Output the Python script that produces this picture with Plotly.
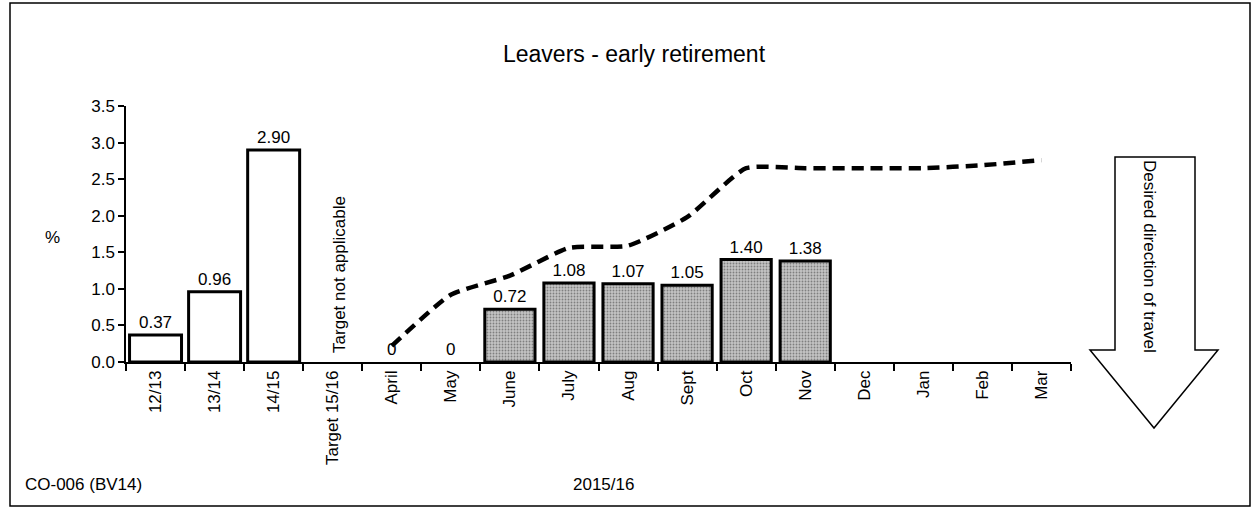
import plotly.graph_objects as go

categories = ["12/13", "13/14", "14/15", "Target 15/16", "April", "May", "June", "July",
              "Aug", "Sept", "Oct", "Nov", "Dec", "Jan", "Feb", "Mar"]
previous_years = [0.37, 0.96, 2.90, None, None, None, None, None, None, None, None, None, None, None, None, None]
previous_labels = ["0.37", "0.96", "2.90"] + [""] * 13
monthly_actual = [None, None, None, None, 0, 0, 0.72, 1.08, 1.07, 1.05, 1.40, 1.38, None, None, None, None]
monthly_labels = ["", "", "", "", "0", "0", "0.72", "1.08", "1.07", "1.05", "1.40", "1.38", "", "", "", ""]
cumulative_line = [None, None, None, None, 0.22, 0.92, 1.18, 1.56, 1.59, 1.98, 2.65, 2.65, 2.65, 2.65, 2.69, 2.76]

FONT = "Arial, Liberation Sans, sans-serif"
TXT = dict(family=FONT, size=17, color="black")

# plot area in pixels
L, R, T, B = 126, 1071, 106, 362
W, H = 1255, 510


def px(x):
    return (x - L) / (R - L)


def py(y):
    return (B - y) / (B - T)


monthly_outline = [0 if v == 0 else 3 for v in [v if v is not None else 1 for v in monthly_actual]]

fig = go.Figure()
fig.add_trace(go.Bar(
    x=categories, y=previous_years, width=0.88,
    marker=dict(color="white", line=dict(color="black", width=3)),
    text=previous_labels, textposition="outside", cliponaxis=False,
    textfont=TXT, showlegend=False,
))
fig.add_trace(go.Bar(
    x=categories, y=monthly_actual, width=0.85,
    marker=dict(color="#bdbdbd", line=dict(color="black", width=monthly_outline),
                pattern=dict(shape=".", fgcolor="#3a3a3a", bgcolor="#c4c4c4",
                             size=3, solidity=0.3, fillmode="overlay")),
    text=monthly_labels, textposition="outside", cliponaxis=False,
    textfont=TXT, showlegend=False,
))
fig.add_trace(go.Scatter(
    x=categories, y=cumulative_line, mode="lines",
    line=dict(color="black", width=4.5, dash="12px,7px", shape="spline", smoothing=0.5),
    showlegend=False, connectgaps=False,
))

shapes = []
# outer border
shapes.append(dict(type="rect", xref="paper", yref="paper",
                   x0=px(10), x1=px(1250), y0=py(506), y1=py(3),
                   line=dict(color="black", width=1.5), layer="below"))
# arrow
ax0, ax1, atop, abase = 1115, 1195, 157, 350
hx0, hx1, apex_x, apex_y = 1090, 1218, 1154, 428
path = "M {} {} L {} {} L {} {} L {} {} L {} {} L {} {} L {} {} Z".format(
    px(ax0), py(atop), px(ax1), py(atop), px(ax1), py(abase), px(hx1), py(abase),
    px(apex_x), py(apex_y), px(hx0), py(abase), px(ax0), py(abase))
shapes.append(dict(type="path", xref="paper", yref="paper", path=path,
                   line=dict(color="black", width=1.5), fillcolor="white"))

C = dict(xanchor="center", yanchor="middle", showarrow=False)
annotations = [
    dict(text="Leavers - early retirement", xref="paper", yref="paper",
         x=px(634), y=py(54), font=dict(family=FONT, size=23, color="black"), **C),
    dict(text="%", xref="paper", yref="paper", x=px(52), y=py(237), font=TXT, **C),
    dict(text="2015/16", xref="paper", yref="paper", x=px(603), y=py(484), font=TXT, **C),
    dict(text="CO-006 (BV14)", xref="paper", yref="paper", x=px(83), y=py(484), font=TXT, **C),
    dict(text="Target not applicable", x="Target 15/16", y=0.1, yanchor="bottom", xanchor="center",
         xshift=6, textangle=-90, showarrow=False, font=TXT),
    dict(text="Desired direction of travel", xref="paper", yref="paper",
         x=px(1150), y=py(256), textangle=90, font=TXT, **C),
]

fig.update_layout(
    width=W, height=H,
    margin=dict(l=L, r=W - R, t=T, b=H - B, pad=0),
    paper_bgcolor="white", plot_bgcolor="white",
    barmode="overlay", bargap=0.1,
    shapes=shapes, annotations=annotations,
    font=TXT,
    xaxis=dict(type="category", categoryorder="array", categoryarray=categories,
               range=[-0.5, len(categories) - 0.5],
               showline=True, linecolor="black", linewidth=1.5,
               ticks="outside", tickson="boundaries", ticklen=7, tickcolor="black", tickwidth=1.5,
               tickangle=-90, tickfont=TXT,
               showgrid=False, zeroline=False),
    yaxis=dict(range=[0, 3.5], tickvals=[0, 0.5, 1, 1.5, 2, 2.5, 3, 3.5],
               ticktext=["0.0", "0.5", "1.0", "1.5", "2.0", "2.5", "3.0", "3.5"],
               showline=True, linecolor="black", linewidth=1.5,
               ticks="outside", ticklen=6, tickcolor="black", tickwidth=1.5,
               tickfont=TXT,
               showgrid=False, zeroline=False),
)

fig.write_html("out.html", config={"displayModeBar": False},
               post_script="document.body.style.margin='0px';")
